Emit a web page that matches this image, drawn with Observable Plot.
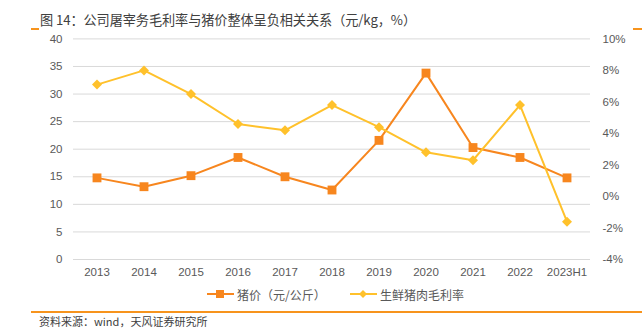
<!DOCTYPE html>
<html>
<head>
<meta charset="utf-8">
<script src="https://cdn.jsdelivr.net/npm/d3@7"></script>
<script src="https://cdn.jsdelivr.net/npm/@observablehq/plot@0.6"></script>
<style>
  html, body { margin: 0; padding: 0; background: #fff; }
  #wrap { position: relative; width: 642px; height: 333px; overflow: hidden; font-family: "Noto Sans CJK SC", "Noto Sans", sans-serif; }
  .dash { position: absolute; height: 2px; background: #F7941D; }
  #title { position: absolute; left: 40px; top: 10px; font-size: 13.2px; color: #404040; white-space: nowrap; letter-spacing: -0.1px; }
  #chart { position: absolute; left: 0; top: 28px; }
  #legend { position: absolute; left: 0; top: 285px; width: 642px; height: 18px; font-size: 12px; color: #595959; }
  .li { position: absolute; top: 0; display: flex; align-items: center; height: 18px; white-space: nowrap; }
  #footline { position: absolute; left: 31px; top: 311px; width: 611px; height: 1.5px; background: #F7941D; }
  #source { position: absolute; left: 39px; top: 313px; font-size: 11px; color: #404040; white-space: nowrap; }
</style>
</head>
<body>
<div id="wrap">
  <div class="dash" style="left:31px; top:28px; width:8px;"></div>
  <div class="dash" style="left:633px; top:28px; width:9px;"></div>
  <div id="title">图 14：公司屠宰务毛利率与猪价整体呈负相关关系（元/kg，%）</div>
  <div id="chart"></div>
  <div id="legend"></div>
  <div id="footline"></div>
  <div id="source">资料来源：wind，天风证券研究所</div>
</div>
<script>
const years = ["2013","2014","2015","2016","2017","2018","2019","2020","2021","2022","2023H1"];
const pigPrice = [14.8, 13.2, 15.2, 18.5, 15.0, 12.6, 21.6, 33.8, 20.3, 18.5, 14.8];
const grossMargin = [7.1, 8.0, 6.5, 4.6, 4.2, 5.8, 4.4, 2.8, 2.3, 5.8, -1.6]; // %
const leftTicks = [0, 5, 10, 15, 20, 25, 30, 35, 40];
const rightTicks = [-4, -2, 0, 2, 4, 6, 8, 10];
const seriesNames = ["猪价（元/公斤）", "生鲜猪肉毛利率"];

const ORANGE = "#F7861E";
const YELLOW = "#FFC12B";

// map right-axis (%) onto left scale: -4% -> 0, 10% -> 40
const toLeft = p => (p + 4) * 40 / 14;

const priceData = years.map((y, i) => ({year: y, v: pigPrice[i]}));
const marginData = years.map((y, i) => ({year: y, v: grossMargin[i]}));

const chart = Plot.plot({
  width: 642,
  height: 255,
  marginTop: 10.4,
  marginBottom: 24,
  marginLeft: 73,
  marginRight: 52,
  style: {fontFamily: "Liberation Sans, Arial, sans-serif", fontSize: "11.5px", color: "#595959", background: "transparent"},
  x: {type: "band", domain: years, padding: 0, label: null},
  y: {domain: [0, 40], label: null},
  marks: [
    Plot.gridY(leftTicks, {stroke: "#d9d9d9", strokeOpacity: 1, strokeWidth: 1}),
    Plot.axisY(leftTicks, {anchor: "left", tickSize: 0, tickPadding: 11, label: null, fill: "#595959"}),
    Plot.axisY(rightTicks.map(toLeft), {anchor: "right", tickSize: 0, tickPadding: 12, label: null, fill: "#595959", textAnchor: "start",
      tickFormat: v => Math.round(v * 14 / 40 - 4) + "%"}),
    Plot.axisX({tickSize: 0, tickPadding: 8, label: null, fill: "#595959"}),
    Plot.line(priceData, {x: "year", y: "v", stroke: ORANGE, strokeWidth: 2}),
    Plot.dot(priceData, {x: "year", y: "v", symbol: "square", r: 5, fill: ORANGE, stroke: "none"}),
    Plot.line(marginData, {x: "year", y: d => toLeft(d.v), stroke: YELLOW, strokeWidth: 2}),
    Plot.dot(marginData, {x: "year", y: d => toLeft(d.v), symbol: "diamond2", r: 4.5, fill: YELLOW, stroke: "none"})
  ]
});
document.getElementById("chart").appendChild(chart);

// legend
const legend = document.getElementById("legend");
const items = [
  {name: seriesNames[0], color: ORANGE, left: 207, shape: "square"},
  {name: seriesNames[1], color: YELLOW, left: 350, shape: "diamond"}
];
for (const it of items) {
  const d = document.createElement("div");
  d.className = "li";
  d.style.left = it.left + "px";
  const marker = it.shape === "square"
    ? `<rect x="9" y="5" width="8" height="8" fill="${it.color}"/>`
    : `<path d="M13 5 L17 9 L13 13 L9 9 Z" fill="${it.color}"/>`;
  d.innerHTML = `<svg width="27" height="18" style="margin-right:3px"><line x1="0" x2="27" y1="9" y2="9" stroke="${it.color}" stroke-width="2"/>${marker}</svg><span>${it.name}</span>`;
  legend.appendChild(d);
}
</script>
</body>
</html>
